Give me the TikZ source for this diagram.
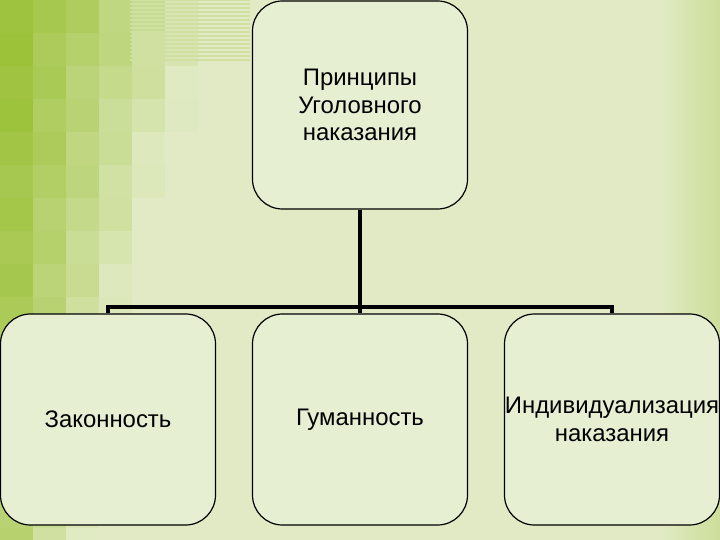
\documentclass[tikz,border=0pt]{standalone}
\usepackage{fontspec}
\setmainfont{Liberation Sans}
\usepackage{xcolor}
\usetikzlibrary{positioning,calc}
\definecolor{slidebg}{HTML}{E1EAC4}
\definecolor{slidegreen}{HTML}{9CC23A}
\definecolor{boxfill}{HTML}{E7EFD3}

\begin{document}
\begin{tikzpicture}[x=1bp, y=-1bp,
    box/.style={draw=black, line width=1.2bp, fill=boxfill, rounded corners=30bp,
        minimum width=215bp, inner sep=0pt, align=center,
        font=\fontsize{24}{27.5}\selectfont},
    link/.style={draw=black, line width=4bp}]
    \useasboundingbox (0,0) rectangle (720,540);
    % Background
    \fill[slidebg] (0,0) rectangle (720,540);
    \foreach \i in {0,...,7} {
        \foreach \j in {0,...,16} {
            \pgfmathsetmacro\t{max(0,min(100, 102 - \i*17 - \j*(2.6+\i*0.8) + mod(\i*7+\j*13,5)*2.5 - 5))}
            \fill[slidegreen!\t!slidebg] (\i*33,\j*33) rectangle ++(33,33);
        }
    }
    \foreach \k in {0,...,15}
        \draw[slidegreen!25!slidebg, line width=1.5bp] (130,\k*4) -- (250,\k*4);
    \shade[left color=slidebg, right color=slidegreen!30!slidebg] (660,0) rectangle (720,540);

    % Boxes
    \node[box, minimum height=208bp] (principles) at (360,105) {Принципы\\Уголовного\\наказания};
    \node[box, minimum height=211bp] (lawful) at (108,419.5) {Законность};
    \node[box, minimum height=211bp] (humane) at (360,419.5) {Гуманность};
    \node[box, minimum height=211bp] (individual) at (612,419.5) {Индивидуализация\\наказания};

    % Connectors
    \coordinate (bus) at (360,307);
    \draw[link] (principles.south) -- (bus);
    \draw[link] (lawful.north) |- (bus) -| (individual.north);
    \draw[link] (bus) -- (humane.north);
\end{tikzpicture}
\end{document}
